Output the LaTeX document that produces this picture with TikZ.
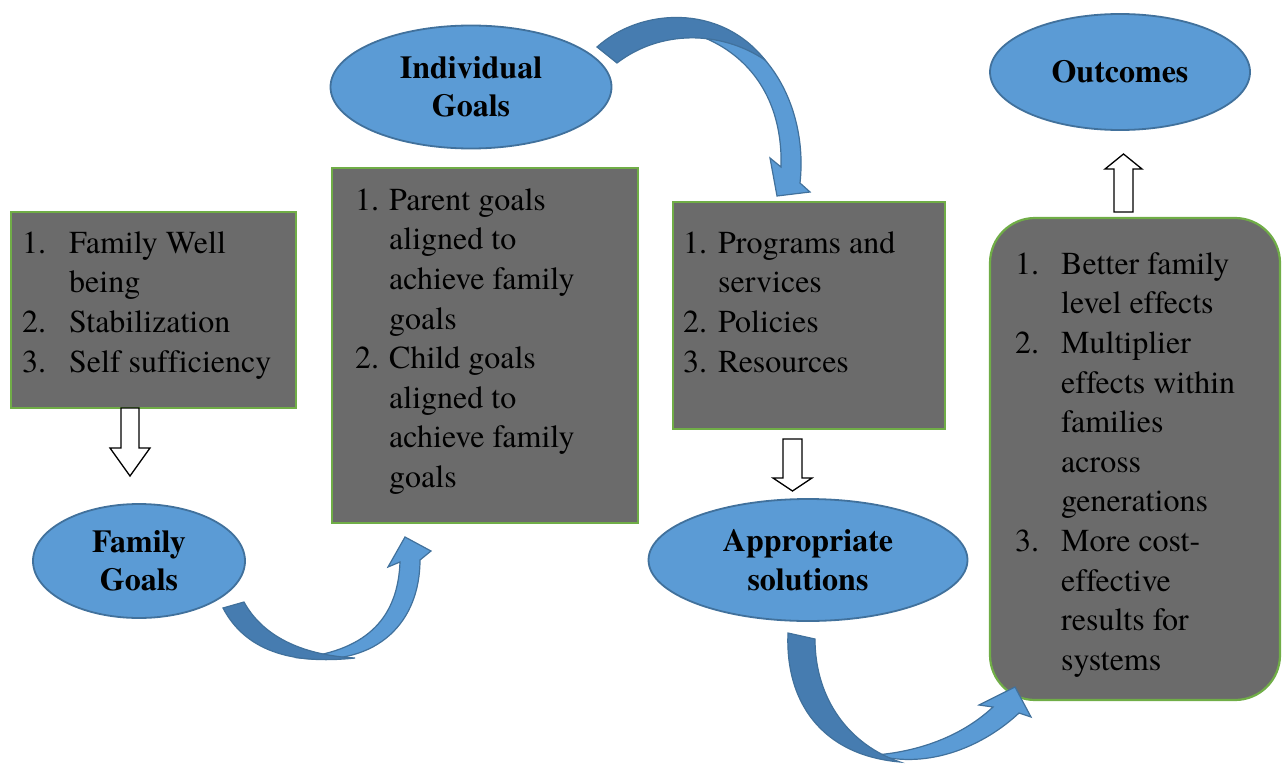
\documentclass[tikz,border=0pt]{standalone}
\usepackage{fontspec}
\IfFontExistsTF{texgyretermes-regular.otf}
  {\setmainfont{texgyretermes}[Extension=.otf, UprightFont=*-regular, BoldFont=*-bold,
     ItalicFont=*-italic, BoldItalicFont=*-bolditalic, Ligatures=NoCommon]}
  {}
\usetikzlibrary{calc,shapes.geometric}
\definecolor{goalfill}{HTML}{5B9BD5}
\definecolor{goalline}{HTML}{41719C}
\definecolor{benddark}{HTML}{467CB0}
\definecolor{listfill}{HTML}{6B6B6B}
\definecolor{listline}{HTML}{70AD47}
\newcommand\numbox[2]{\makebox[#1pt][l]{#2}}

\begin{document}
\begin{tikzpicture}[x=1pt,y=-1pt,
    goal/.style={ellipse, draw=goalline, line width=1.8pt, fill=goalfill, inner sep=0pt,
      align=center, font=\rmfamily\fontsize{32}{38.5}\selectfont\bfseries},
    listbox/.style={draw=listline, line width=2.2pt, fill=listfill, inner sep=0pt},
    listtext/.style={inner sep=0pt, align=left, anchor=north west,
      font=\rmfamily\fontsize{32}{39.6}\selectfont},
    hollow/.style={draw=black, line width=1.3pt, fill=white},
    bendlight/.style={draw=goalline, line width=1.2pt, fill=goalfill},
    bendback/.style={draw=goalline, line width=1.2pt, fill=benddark}]
			%%%%% START %%%%%
			\useasboundingbox (0,0) rectangle (1282,765);
			
			% family goals
			\node[listbox, minimum width=285, minimum height=196] (famlist) at (153.5,310) {};
			\node[listtext] (famtext) at (22,225.4) {\strut\numbox{47}{1.}Family Well\\
				\numbox{47}{}being\\\numbox{47}{2.}Stabilization\\\numbox{47}{3.}Self sufficiency};
			\draw[hollow] (121,408) -- (139,408) -- (139,448) -- (150,448) -- (130,476)
				-- (110,448) -- (121,448) -- cycle;
			\node[goal, minimum width=212, minimum height=114] (famgoal) at (139,561) {Family\\Goals};
			
			% individual goals
			\node[goal, minimum width=281, minimum height=123] (indgoal) at (471,87) {Individual\\Goals};
			\node[listbox, minimum width=306, minimum height=355] (indlist) at (485,345.5) {};
			\node[listtext] (indtext) at (355,182.4) {\strut\numbox{34}{1.}Parent goals\\
				\numbox{34}{}aligned to\\\numbox{34}{}achieve family\\\numbox{34}{}goals\\
				\numbox{34}{2.}Child goals\\\numbox{34}{}aligned to\\
				\numbox{34}{}achieve family\\\numbox{34}{}goals};
			
			% solutions
			\node[listbox, minimum width=272, minimum height=227] (sollist) at (809,315.5) {};
			\node[listtext] (soltext) at (683,225.4) {\strut\numbox{35}{1.}Programs and\\
				\numbox{35}{}services\\\numbox{35}{2.}Policies\\\numbox{35}{3.}Resources};
			\draw[hollow] (783,439) -- (802,439) -- (802,478) -- (812,478) -- (792.5,491)
				-- (773,478) -- (783,478) -- cycle;
			\node[goal, minimum width=319, minimum height=122] (solgoal) at (808,560) {Appropriate\\solutions};
			
			% outcomes
			\node[listbox, rounded corners=45pt, minimum width=290, minimum height=482] (outlist) at (1135,459) {};
			\node[listtext] (outtext) at (1015,246.4) {\strut\numbox{46}{1.}Better family\\
				\numbox{46}{}level effects\\\numbox{46}{2.}Multiplier\\\numbox{46}{}effects within\\
				\numbox{46}{}families\\\numbox{46}{}across\\\numbox{46}{}generations\\
				\numbox{46}{3.}More cost-\\\numbox{46}{}effective\\\numbox{46}{}results for\\
				\numbox{46}{}systems};
			\draw[hollow] (1114,212) -- (1133,212) -- (1133,169) -- (1142,169) -- (1123.5,154)
				-- (1105,169) -- (1114,169) -- cycle;
			\node[goal, minimum width=260, minimum height=116] (outgoal) at (1120,72) {Outcomes};
			
			% bent arrows
			\draw[bendlight] (300,658) .. controls (380,667) and (420,620) .. (420,560) -- (431,551)
				-- (405,537) -- (388,567) -- (400,562) .. controls (398,615) and (370,650) .. (300,658) -- cycle;
			\draw[bendback] (223,608) .. controls (245,650) and (290,665) .. (355,658)
				.. controls (300,655) and (262,635) .. (244,602) -- cycle;
			
			\draw[bendlight] (700,22) .. controls (770,35) and (808,110) .. (800,183) -- (810,192)
				-- (777,196) -- (770,158) -- (781,167) .. controls (783,100) and (750,55) .. (700,36) -- cycle;
			\draw[bendback] (597,47) .. controls (640,8) and (720,3) .. (765,60)
				.. controls (720,30) and (660,30) .. (617,63) -- cycle;
			
			\draw[bendlight] (875,755) .. controls (930,770) and (985,745) .. (1019,713) -- (1031,717)
				-- (1015,687) -- (979,705) -- (993,707) .. controls (960,738) and (915,752) .. (875,755) -- cycle;
			\draw[bendback] (788,633) .. controls (785,700) and (820,755) .. (900,762)
				.. controls (850,745) and (815,700) .. (815,639) -- cycle;
			%%%%% END %%%%%
\end{tikzpicture}
\end{document}
